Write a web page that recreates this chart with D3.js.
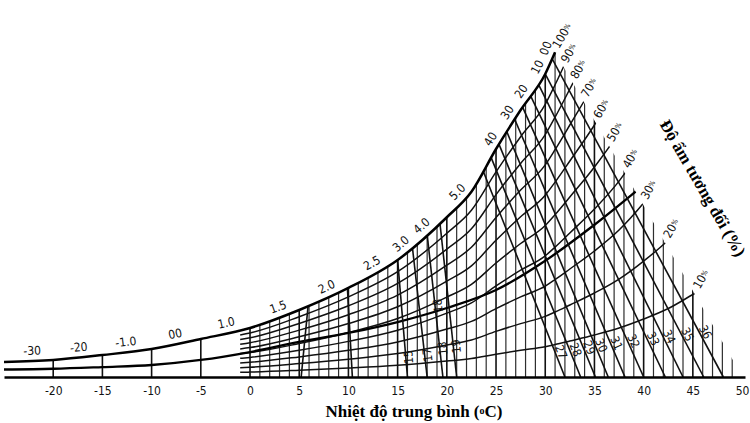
<!DOCTYPE html>
<html lang="vi">
<head>
  <meta charset="UTF-8">
  <title>Nhiệt độ - độ ẩm tương đối</title>
  <script src="https://d3js.org/d3.v7.min.js"></script>
  <style>
    body { margin: 0; background: #fff; }
    svg { display: block; }
    .num { font-family: "DejaVu Sans Condensed", "DejaVu Sans", sans-serif; font-size: 12px; fill: #111; }
    .tick text { font-family: "DejaVu Sans Condensed", "DejaVu Sans", sans-serif; font-size: 12px; fill: #111; }
    .title { font-family: "Liberation Serif", "DejaVu Serif", serif; font-weight: bold; font-size: 17px; fill: #000; }
  </style>
</head>
<body>
  <script>
    // temperature ticks along the bottom (°C)
    const tempTicks = [-20, -15, -10, -5, 0, 5, 10, 15, 20, 25, 30, 35, 40, 45, 50];

    // saturation (100%) curve, chart units
    const satT = [-25, -20, -15, -10, -5, 0, 5, 10, 15, 20, 22.5, 25, 27.5, 30, 31, 32.5, 35, 37.5, 40, 42.5, 45, 47.5, 50.3];
    const satV = [2.0, 2.27, 2.93, 3.73, 5.07, 6.53, 8.93, 11.87, 15.6, 21.3, 24.7, 30.4, 35.6, 40.4, 43.3, 48.0, 56.0, 65.3, 77.3, 91.3, 110, 129, 152];

    // heavy middle curve
    const boldT = [-25, -20, -15, -10, -5, 0, 5, 10, 15, 20, 25, 30, 35, 40, 45];
    const boldV = [1.0, 1.1, 1.33, 1.6, 2.27, 3.33, 4.67, 5.87, 7.33, 9.2, 11.6, 15.5, 20.3, 25.6, 31];

    // relative humidity curves (%)
    const rhLevels = [10, 20, 30, 40, 50, 60, 70, 80, 90];

    // right-hand edge of the grid: from the top of the curve down to the axis (°C)
    const edgeT = [31.0, 50.3];

    // labels written along the saturation curve
    const curveLabels = ["-30", "-20", "-1.0", "00", "1.0", "1.5", "2.0", "2.5", "3.0", "4.0", "5.0", "40", "30", "20", "10", "00"];
    const curveLabelT = [-22.1, -17.3, -12.5, -7.4, -2.2, 3.2, 8.2, 12.9, 16.0, 18.1, 21.8, 25.3, 27.0, 28.4, 30.1, 31.0];

    // slanted lines falling from the curve to the axis (°C at top, °C at bottom)
    const diagLabels = ["27", "28", "29", "30", "31", "32", "33", "34", "35", "36"];
    const diagTop = [23.7, 24.5, 25.3, 26.1, 26.9, 27.7, 28.5, 29.3, 30.0, 30.7];
    const diagBottom = [32.0, 33.6, 35.1, 36.4, 38.1, 40.0, 42.2, 44.0, 46.1, 48.1];

    // steep lines in the middle
    const steepTop = [5.9, 9.9, 15.0, 16.5, 18.0, 19.3];
    const steepBottom = [5.2, 10.4, 16.0, 18.0, 19.6, 21.0];
    const steepLabels = ["15", "17", "18", "19", "18"];
    const steepLabelLine = [2, 3, 4, 5, 4];

    const width = 750, height = 423;
    const svg = d3.select("body").append("svg").attr("width", width).attr("height", height);

    const x = d3.scaleLinear().domain([-25, 50.3]).range([4, 745]);
    const y = d3.scaleLinear().domain([0, 44]).range([377, 47]);
    const satAt = d3.scaleLinear().domain(satT).range(satV);
    const edgeAt = d3.scaleLinear().domain(edgeT).range([satAt(edgeT[0]), 0]);

    const line = d3.line().x(d => x(d[0])).y(d => y(d[1])).curve(d3.curveMonotoneX);

    const satPts = satT.filter(t => t <= edgeT[0]).map((t, i) => [t, satV[i]]);

    // clip: area under the saturation curve and left of the edge
    const clipD = line(satPts) + `L${x(edgeT[1])},${y(0) + 4}L${x(-25)},${y(0) + 4}Z`;
    svg.append("defs").append("clipPath").attr("id", "grid")
      .append("path").attr("d", clipD);

    const grid = svg.append("g").attr("clip-path", "url(#grid)");

    // isotherms
    const iso = [-20, -15, -10, -5].concat(d3.range(0, 50));
    grid.append("g").selectAll("line").data(iso).join("line")
      .attr("x1", d => x(d)).attr("x2", d => x(d))
      .attr("y1", y(0)).attr("y2", y(46))
      .attr("stroke", d => d % 5 === 0 ? "#111" : "#2e2e2e")
      .attr("stroke-width", d => d % 5 === 0 ? 1.6 : 1.2);

    // relative humidity curves
    const rhT = [-1].concat(satT.filter(t => t > -1));
    grid.append("g").selectAll("path").data(rhLevels).join("path")
      .attr("d", p => line(rhT.map(t => [t, satAt(t) * p / 100])))
      .attr("fill", "none").attr("stroke", "#111").attr("stroke-width", 1.5);

    // heavy curve
    grid.append("path")
      .attr("d", line(boldT.map((t, i) => [t, boldV[i]])))
      .attr("fill", "none").attr("stroke", "#000").attr("stroke-width", 2.3);

    function seg(t0, t1) {
      const p = [x(t0), y(satAt(t0))], q = [x(t1), y(0)];
      const dx = q[0] - p[0], dy = q[1] - p[1], len = Math.hypot(dx, dy);
      return { p, q, ext: [p[0] - dx / len * 8, p[1] - dy / len * 8], ang: Math.atan2(dy, dx) * 180 / Math.PI };
    }

    const diags = diagTop.map((t, i) => seg(t, diagBottom[i]));
    grid.append("g").selectAll("line").data(diags).join("line")
      .attr("x1", d => d.ext[0]).attr("y1", d => d.ext[1])
      .attr("x2", d => d.q[0]).attr("y2", d => d.q[1])
      .attr("stroke", "#111").attr("stroke-width", 1.6);

    const steeps = steepTop.map((t, i) => seg(t, steepBottom[i]));
    grid.append("g").selectAll("line").data(steeps).join("line")
      .attr("x1", d => d.ext[0]).attr("y1", d => d.ext[1])
      .attr("x2", d => d.q[0]).attr("y2", d => d.q[1])
      .attr("stroke", "#111").attr("stroke-width", 1.6);

    // saturation curve (100%)
    svg.append("path").attr("d", line(satPts))
      .attr("fill", "none").attr("stroke", "#000").attr("stroke-width", 2.5);

    // axis with baseline
    const axis = svg.append("g").attr("transform", `translate(0,${y(0)})`)
      .call(d3.axisBottom(x).tickValues(tempTicks).tickFormat(d => String(d)).tickSize(0).tickSizeOuter(0).tickPadding(9));
    axis.select(".domain").attr("stroke", "#000").attr("stroke-width", 2.6);

    // labels along the saturation curve
    svg.append("g").selectAll("text").data(curveLabels).join("text")
      .attr("class", "num")
      .attr("text-anchor", "middle")
      .attr("dominant-baseline", "central")
      .attr("transform", (d, i) => {
        const t = curveLabelT[i];
        const x0 = x(t - 0.5), y0 = y(satAt(t - 0.5)), x1 = x(t + 0.5), y1 = y(satAt(t + 0.5));
        const len = Math.hypot(x1 - x0, y1 - y0);
        const ux = (x1 - x0) / len, uy = (y1 - y0) / len;
        const px = x(t) + uy * 10, py = y(satAt(t)) - ux * 10;
        return `translate(${px},${py}) rotate(${Math.atan2(uy, ux) * 180 / Math.PI})`;
      })
      .text(d => d);

    // labels on the slanted lines
    svg.append("g").selectAll("text").data(diagLabels).join("text")
      .attr("class", "num")
      .attr("font-size", "11px")
      .attr("text-anchor", "middle")
      .attr("dominant-baseline", "central")
      .attr("transform", (d, i) => {
        const s = diags[i], h = 25 + 2.2 * i;
        const f = h / (s.q[1] - s.p[1]);
        const px = s.q[0] - (s.q[0] - s.p[0]) * f + 6, py = s.q[1] - h;
        return `translate(${px},${py}) rotate(${s.ang})`;
      })
      .text(d => d);

    const steepAt = [0.17, 0.17, 0.2, 0.2, 0.5];
    svg.append("g").selectAll("text").data(steepLabels).join("text")
      .attr("class", "num")
      .attr("font-size", "10px")
      .attr("text-anchor", "middle")
      .attr("dominant-baseline", "central")
      .attr("transform", (d, i) => {
        const s = steeps[steepLabelLine[i]], f = steepAt[i];
        const px = s.q[0] - (s.q[0] - s.p[0]) * f + 3, py = s.q[1] - (s.q[1] - s.p[1]) * f;
        return `translate(${px},${py}) rotate(${s.ang - 180})`;
      })
      .text(d => d);

    // relative humidity labels at the ends of the curves
    function endT(p) {
      let lo = edgeT[0] - 1, hi = edgeT[1];
      for (let k = 0; k < 40; k++) {
        const m = (lo + hi) / 2;
        if (satAt(m) * p / 100 < edgeAt(m)) lo = m; else hi = m;
      }
      return lo;
    }
    const rhAll = rhLevels.concat([100]);
    const rhText = svg.append("g").selectAll("text").data(rhAll).join("text")
      .attr("class", "num")
      .attr("font-size", "10px")
      .attr("transform", p => {
        const t = p === 100 ? edgeT[0] : endT(p);
        return `translate(${x(t) + 4},${y(satAt(t) * p / 100) - 3}) rotate(-60)`;
      });
    rhText.append("tspan").text(p => p);
    rhText.append("tspan").attr("font-size", "7px").attr("dy", -2).text("%");

    // axis titles
    const xt = svg.append("text").attr("class", "title")
      .attr("x", 414).attr("y", 417).attr("text-anchor", "middle")
      .text("Nhiệt độ trung bình (");
    xt.append("tspan").attr("font-size", "10px").attr("dy", -3).text("o");
    xt.append("tspan").attr("dy", 3).text("C)");

    svg.append("text").attr("class", "title")
      .attr("text-anchor", "middle")
      .attr("transform", "translate(698,191) rotate(60)")
      .text("Độ ẩm tương đối (%)");
  </script>
</body>
</html>
